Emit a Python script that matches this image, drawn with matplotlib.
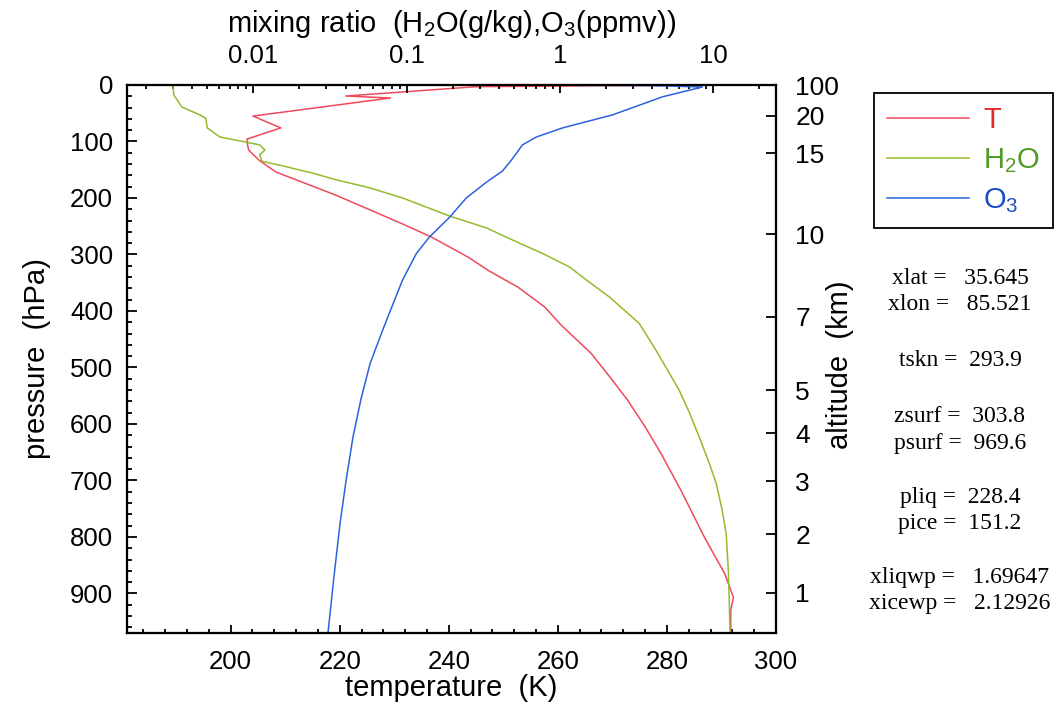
import numpy as np
import matplotlib.pyplot as plt
from matplotlib.ticker import MultipleLocator, LogLocator, NullFormatter, NullLocator

plt.rcParams["font.family"] = ["Liberation Sans", "DejaVu Sans"]
plt.rcParams["mathtext.default"] = "regular"

# temperature profile (hPa, K)
p_temp = [0.005, 0.02, 0.1, 0.3, 0.7, 1.0, 2.0, 3.0, 19.5, 23, 55, 76, 95.7, 106,
          115, 133, 154, 195, 245, 269, 305, 328, 358, 393, 425, 475, 520, 558, 605,
          652, 718, 801, 865, 907, 930, 970]
temp = [175, 190, 220, 250, 284, 270, 258, 245, 221.1, 229.3, 204.1, 209.2, 203.0,
        203.1, 203.3, 205.2, 208.3, 219.3, 231.3, 236.8, 243.6, 247.2, 252.7, 257.6,
        260.6, 266.1, 269.8, 272.8, 276.0, 278.9, 282.6, 286.9, 290.6, 292.2, 291.7,
        291.7]

# water vapour mixing ratio (hPa, g/kg)
p_h2o = [0.005, 17.7, 39, 53, 59, 76, 92, 99, 106, 115, 124, 135, 142, 156, 168,
         182, 200, 232, 253, 280, 298, 322, 345, 375, 422, 470, 540, 580, 623, 665,
         705, 750, 794, 854, 912, 970]
h2o = [0.00299, 0.00303, 0.00342, 0.00449, 0.00490, 0.00501, 0.00605, 0.00817,
       0.0110, 0.0119, 0.0110, 0.0114, 0.0149, 0.0244, 0.0350, 0.0574, 0.0942,
       0.191, 0.332, 0.545, 0.769, 1.153, 1.489, 2.099, 3.296, 4.246, 5.998,
       7.00, 8.110, 9.30, 10.47, 11.40, 12.16, 12.53, 12.74, 12.88]

# ozone mixing ratio (hPa, ppmv)
p_o3 = [0.005, 0.1, 1, 3.5, 21, 53, 76, 92, 106, 133, 152, 172, 200, 234, 269,
        298, 345, 387, 434, 493, 555, 623, 700, 776, 870, 970]
o3 = [0.229, 0.631, 3.98, 8.51, 4.66, 2.20, 1.04, 0.703, 0.570, 0.483, 0.423,
      0.332, 0.245, 0.191, 0.141, 0.116, 0.0942, 0.0817, 0.0698, 0.0578, 0.0505,
      0.0447, 0.0403, 0.0368, 0.0336, 0.0307]

alt_ticks = [1, 2, 3, 4, 5, 7, 10, 15, 20, 100]   # km

info_names = ["xlat", "xlon", "tskn", "zsurf", "psurf", "pliq", "pice", "xliqwp", "xicewp"]
info_values = ["  35.645", "  85.521", " 293.9", " 303.8", " 969.6", " 228.4", " 151.2",
               "  1.69647", "  2.12926"]
info_ypix = [279, 305, 360, 416, 443, 497, 523, 578, 604]

c_t, c_q, c_o = "#ee4a5c", "#94bb2c", "#2b63dd"


def std_pressure(z_km):
    # US standard atmosphere, used for the altitude axis
    z = z_km * 1000.0
    if z <= 11000:
        return 1013.25 * (1 - 2.25577e-5 * z) ** 5.25588
    return 226.32 * np.exp(-(z - 11000) / 6341.6)


W, H = 1063, 711
fig = plt.figure(figsize=(W / 100, H / 100), dpi=100)
ax = fig.add_axes([127 / W, 1 - 633 / H, (776 - 127) / W, (633 - 85) / H])

ln_t, = ax.plot(temp, p_temp, color=c_t, lw=1.1)
ax.set_xlim(181, 300)
ax.set_ylim(970, 0)
ax.xaxis.set_major_locator(MultipleLocator(20))
ax.xaxis.set_minor_locator(MultipleLocator(4))
ax.yaxis.set_major_locator(MultipleLocator(100))
ax.yaxis.set_minor_locator(MultipleLocator(20))
ax.tick_params(which="both", direction="in", top=False, right=False, width=1.3,
               labelsize=18.5)
ax.tick_params(axis="x", which="major", length=6, pad=12)
ax.tick_params(axis="x", which="minor", length=3)
ax.tick_params(axis="y", which="major", length=7, pad=10)
ax.tick_params(axis="y", which="minor", length=3.5)
ax.set_xlabel("temperature  (K)", fontsize=21, labelpad=0)
ax.set_ylabel("pressure  (hPa)", fontsize=21, labelpad=14)

axt = ax.twiny()
axt.set_xscale("log")
ln_q, = axt.plot(h2o, p_h2o, color=c_q, lw=1.1)
ln_o, = axt.plot(o3, p_o3, color=c_o, lw=1.1)
axt.set_xlim(10 ** -2.824, 10 ** 1.41)
axt.set_ylim(970, 0)
axt.set_xticks([0.01, 0.1, 1, 10])
axt.set_xticklabels(["0.01", "0.1", "1", "10"])
axt.xaxis.set_minor_locator(LogLocator(base=10, subs=np.arange(2, 10)))
axt.xaxis.set_minor_formatter(NullFormatter())
axt.tick_params(which="both", direction="in", width=1.3, labelsize=18.5)
axt.tick_params(which="major", length=6, pad=12)
axt.tick_params(which="minor", length=3)
axt.set_xlabel("mixing ratio  (H$_2$O(g/kg),O$_3$(ppmv))", fontsize=21, labelpad=9)

axr = ax.twinx()
axr.set_ylim(970, 0)
axr.set_yticks([std_pressure(z) for z in alt_ticks])
axr.set_yticklabels([str(z) for z in alt_ticks])
axr.yaxis.set_minor_locator(NullLocator())
axr.tick_params(direction="in", length=7, width=1.3, labelsize=19, pad=14)
axr.text(1.098, 0.49, "altitude  (km)", transform=axr.transAxes, rotation=90,
         ha="center", va="center", fontsize=21)

for a in (ax, axt, axr):
    for s in a.spines.values():
        s.set_linewidth(1.5)

leg = fig.legend([ln_t, ln_q, ln_o], ["T", "H$_2$O", "O$_3$"],
                 loc="upper left", bbox_to_anchor=(874 / W, 1 - 93 / H),
                 fontsize=21, labelcolor=["#e32a2a", "#4f9a22", "#1b4fc4"],
                 frameon=True, fancybox=False, edgecolor="black", framealpha=1,
                 handlelength=2.8, handletextpad=0.5, labelspacing=0.4,
                 borderpad=0.45, borderaxespad=0)
leg.get_frame().set_linewidth(1.3)

for name, val, yp in zip(info_names, info_values, info_ypix):
    fig.text(960 / W, 1 - yp / H, f"{name} = {val}", ha="center", va="center",
             fontsize=17, family=["Liberation Serif", "DejaVu Serif"])

fig.savefig("out.png", dpi=100)
